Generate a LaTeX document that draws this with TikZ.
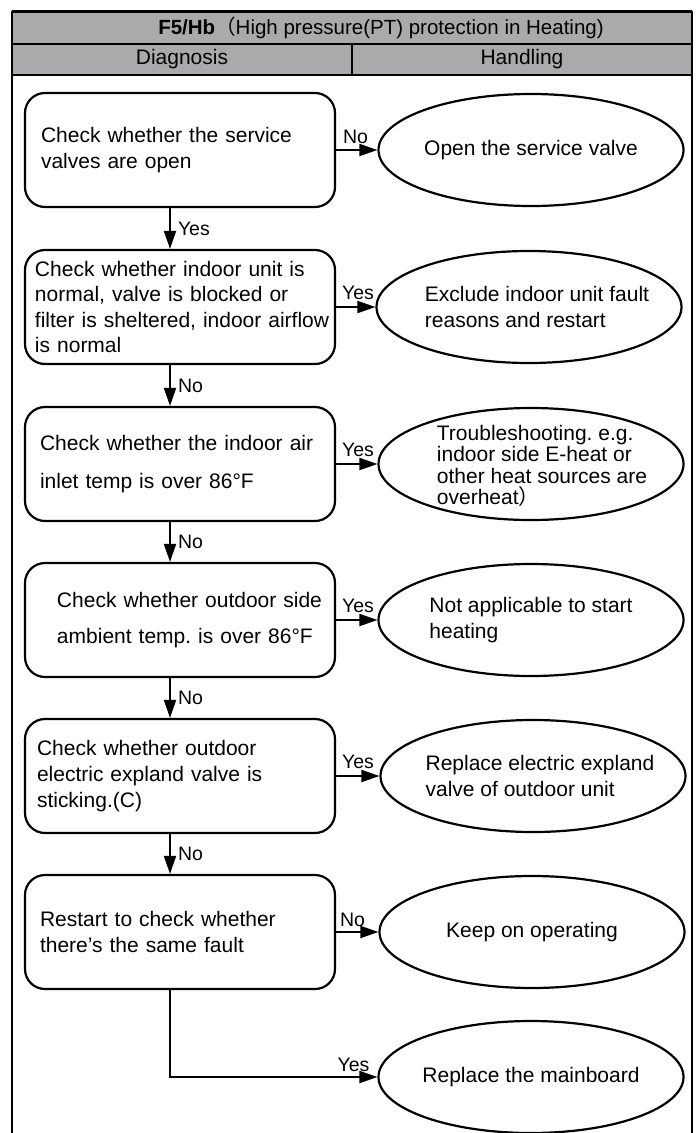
\documentclass[tikz,border=0pt]{standalone}
\usepackage{fontspec}
\setmainfont{Liberation Sans}
\newfontfamily\cjk{Noto Sans CJK SC}
\usetikzlibrary{arrows.meta,shapes.geometric}
\definecolor{hdrgray}{RGB}{170,170,172}
\frenchspacing

\begin{document}
\begin{tikzpicture}[x=1pt, y=-1pt, line width=2pt,
    chkbox/.style={draw, line width=2.2pt, rounded corners=20pt, minimum width=310pt, minimum height=114pt,
      text width=300pt, inner xsep=5pt, align=left, font=\fontsize{21pt}{26pt}\selectfont},
    txtin/.style={execute at begin node={\leftskip=#1}},
    fixbox/.style={draw, line width=2.2pt, ellipse, minimum width=305pt, minimum height=112pt, inner sep=0pt},
    fixtxt/.style={align=left, inner sep=0pt, font=\fontsize{21pt}{26pt}\selectfont},
    hdr/.style={font=\fontsize{21pt}{24pt}\selectfont},
    lbl/.style={font=\fontsize{19.5pt}{22pt}\selectfont, inner sep=1pt},
    flow/.style={-{Triangle[length=18pt, width=12pt]}}]
    \useasboundingbox (0,0) rectangle (699,1133);

    % Table head (gray rows)
    \fill[hdrgray] (12,11) rectangle (692,75);
    \draw[line width=3pt] (12,11) -- (692,11);
    \draw (12,44) -- (692,44);
    \draw (12,75) -- (692,75);
    \draw (352,44) -- (352,75);
    \draw (12,11) -- (12,1133);
    \draw (692,11) -- (692,1133);
    \node[hdr, font=\fontsize{20.5pt}{24pt}\selectfont] (title) at (381,27.5) {\textbf{F5/Hb}{\cjk （}High pressure(PT) protection in Heating)};
    \node[hdr] (diag) at (182,59.5) {Diagnosis};
    \node[hdr] (hand) at (522,59.5) {Handling};

    % Diagnosis steps (left column)
    \node[chkbox, txtin=11pt] (b1) at (180,150) {Check whether the service\\valves are open};
    \node[chkbox, txtin=5pt, font=\fontsize{21pt}{25.5pt}\selectfont] (b2) at (180,307)
      {Check whether indoor unit is\\normal, valve is blocked or\\filter is sheltered, indoor airflow\\is normal};
    \node[chkbox, txtin=10pt] (b3) at (180,464) {Check whether the indoor air\\[12pt]inlet temp is over 86°F};
    \node[chkbox, txtin=27pt] (b4) at (180,620) {Check whether outdoor side\\[10pt]ambient temp. is over 86°F};
    \node[chkbox, txtin=7pt] (b5) at (180,776) {Check whether outdoor\\electric expland valve is\\sticking.(C)};
    \node[chkbox, txtin=10pt] (b6) at (180,932) {Restart to check whether\\there’s the same fault};

    % Handling (right column)
    \node[fixbox] (e1) at (531,150) {};
    \node[fixtxt] (e1t) at (e1) {Open the service valve};
    \node[fixbox] (e2) at (529,307) {};
    \node[fixtxt] (e2t) at (537,307) {Exclude indoor unit fault\\reasons and restart};
    \node[fixbox] (e3) at (531,464) {};
    \node[fixtxt, font=\fontsize{21pt}{21.5pt}\selectfont] (e3t) at (542,466)
      {Troubleshooting. e.g.\\indoor side E-heat or\\other heat sources are\\overheat{\cjk ）}};
    \node[fixbox] (e4) at (531,620) {};
    \node[fixtxt] (e4t) at (e4) {Not applicable to start\\heating};
    \node[fixbox] (e5) at (533,776) {};
    \node[fixtxt] (e5t) at (540,776) {Replace electric expland\\valve of outdoor unit};
    \node[fixbox] (e6) at (532,932) {};
    \node[fixtxt] (e6t) at (e6) {Keep on operating};
    \node[fixbox] (e7) at (531,1077) {};
    \node[fixtxt] (e7t) at (e7) {Replace the mainboard};

    % Down the diagnosis chain
    \draw[flow] ([xshift=-10pt]b1.south) -- node[lbl, right, xshift=6pt] {Yes} ([xshift=-10pt]b2.north);
    \draw[flow] ([xshift=-10pt]b2.south) -- node[lbl, right, xshift=6pt] {No} ([xshift=-10pt]b3.north);
    \draw[flow] ([xshift=-10pt]b3.south) -- node[lbl, right, xshift=6pt] {No} ([xshift=-10pt]b4.north);
    \draw[flow] ([xshift=-10pt]b4.south) -- node[lbl, right, xshift=6pt] {No} ([xshift=-10pt]b5.north);
    \draw[flow] ([xshift=-10pt]b5.south) -- node[lbl, right, xshift=6pt] {No} ([xshift=-10pt]b6.north);

    % Across to the handling
    \draw[flow] (b1) -- node[lbl, above right, pos=0, xshift=5pt, yshift=4pt] {No} (e1);
    \draw[flow] (b2) -- node[lbl, above right, pos=0, xshift=4pt, yshift=5pt] {Yes} (e2);
    \draw[flow] (b3) -- node[lbl, above right, pos=0, xshift=4pt, yshift=5pt] {Yes} (e3);
    \draw[flow] (b4) -- node[lbl, above right, pos=0, xshift=4pt, yshift=5pt] {Yes} (e4);
    \draw[flow] (b5) -- node[lbl, above right, pos=0, xshift=4pt, yshift=5pt] {Yes} (e5);
    \draw[flow] (b6) -- node[lbl, above right, pos=0, xshift=2pt, yshift=3pt] {No} (e6);
    \draw[flow] ([xshift=-10pt]b6.south) |- node[lbl, above left, pos=1, xshift=-6pt, yshift=3pt] {Yes} (e7);
\end{tikzpicture}
\end{document}
